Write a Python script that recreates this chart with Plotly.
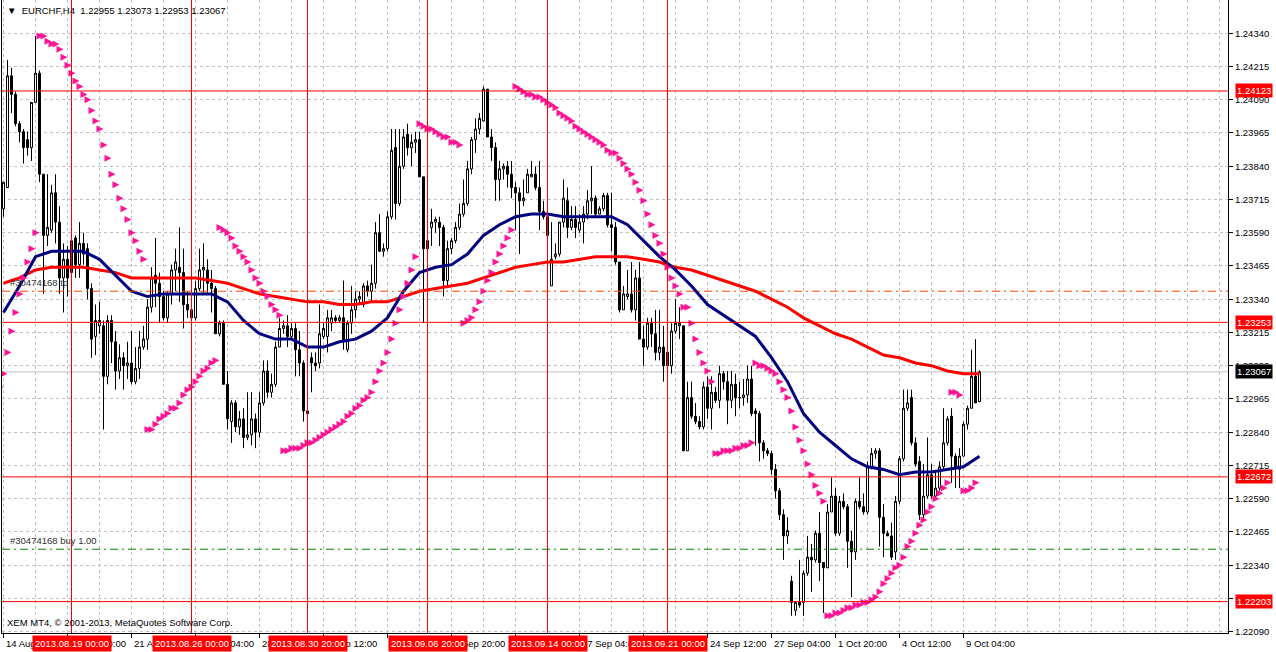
import plotly.graph_objects as go

# EURCHF H4 bars (bar index 0 = 14 Aug 2013 04:00)
open_ = [
    1.2368, 1.2376, 1.2418, 1.2411, 1.2400, 1.2397, 1.2394, 1.2391, 1.2408, 1.2419,
    1.2381, 1.2358, 1.2360, 1.2374, 1.2363, 1.2342, 1.2349, 1.2344, 1.2357, 1.2347,
    1.2355, 1.2353, 1.2338, 1.2320, 1.2324, 1.2324, 1.2305, 1.2326, 1.2318, 1.2307,
    1.2312, 1.2309, 1.2310, 1.2303, 1.2308, 1.2316, 1.2319, 1.2331, 1.2343, 1.2340,
    1.2335, 1.2327, 1.2336, 1.2345, 1.2346, 1.2344, 1.2332, 1.2330, 1.2327, 1.2338,
    1.2345, 1.2345, 1.2340, 1.2338, 1.2321, 1.2325, 1.2302, 1.2288, 1.2295, 1.2286,
    1.2289, 1.2282, 1.2283, 1.2289, 1.2284, 1.2295, 1.2307, 1.2299, 1.2302, 1.2316,
    1.2323, 1.2324, 1.2320, 1.2323, 1.2315, 1.2310, 1.2292, 1.2312, 1.2310, 1.2310,
    1.2320, 1.2320, 1.2325, 1.2327, 1.2326, 1.2327, 1.2315, 1.2325, 1.2330, 1.2334,
    1.2332, 1.2339, 1.2337, 1.2340, 1.2359, 1.2352, 1.2353, 1.2365, 1.2391, 1.2370,
    1.2384, 1.2396, 1.2391, 1.2393, 1.2394, 1.2380, 1.2356, 1.2361, 1.2363, 1.2363,
    1.2361, 1.2341, 1.2353, 1.2356, 1.2361, 1.2366, 1.2370, 1.2383, 1.2394, 1.2398,
    1.2401, 1.2413, 1.2395, 1.2391, 1.2379, 1.2383, 1.2384, 1.2381, 1.2376, 1.2374,
    1.2371, 1.2374, 1.2380, 1.2381, 1.2376, 1.2367, 1.2365, 1.2339, 1.2350, 1.2351,
    1.2363, 1.2371, 1.2361, 1.2364, 1.2360, 1.2363, 1.2366, 1.2371, 1.2372, 1.2366,
    1.2368, 1.2373, 1.2362, 1.2361, 1.2348, 1.2330, 1.2335, 1.2336, 1.2330, 1.2342,
    1.2319, 1.2316, 1.2325, 1.2321, 1.2314, 1.2316, 1.2314, 1.2309, 1.2322, 1.2324,
    1.2324, 1.2277, 1.2297, 1.2290, 1.2288, 1.2286, 1.2301, 1.2293, 1.2299, 1.2296,
    1.2306, 1.2303, 1.2296, 1.2302, 1.2297, 1.2297, 1.2298, 1.2304, 1.2292, 1.2291,
    1.2280, 1.2277, 1.2276, 1.2270, 1.2262, 1.2253, 1.2245, 1.2228, 1.2217, 1.2220,
    1.2220, 1.2231, 1.2237, 1.2236, 1.2246, 1.2235, 1.2233, 1.2254, 1.2260, 1.2246,
    1.2258, 1.2256, 1.2243, 1.2239, 1.2258, 1.2256, 1.2254, 1.2271, 1.2276, 1.2277,
    1.2252, 1.2246, 1.2245, 1.2239, 1.2258, 1.2274, 1.2293, 1.2297, 1.2280, 1.2273,
    1.2253, 1.2260, 1.2268, 1.2260, 1.2263, 1.2271, 1.2280, 1.2290, 1.2275, 1.2270,
    1.2275, 1.2287, 1.2293, 1.2305, 1.22955,
]
high = [
    1.2378, 1.2424, 1.2421, 1.2412, 1.2401, 1.2398, 1.2397, 1.2408, 1.2433, 1.2420,
    1.2381, 1.2381, 1.2377, 1.2381, 1.2369, 1.2355, 1.2354, 1.2358, 1.2358, 1.2363,
    1.2359, 1.2355, 1.2340, 1.2332, 1.2333, 1.2326, 1.2328, 1.2328, 1.2322, 1.2317,
    1.2314, 1.2318, 1.2322, 1.2316, 1.2322, 1.2324, 1.2334, 1.2346, 1.2357, 1.2344,
    1.2337, 1.2337, 1.2347, 1.2353, 1.2361, 1.2353, 1.2337, 1.2337, 1.2341, 1.2353,
    1.2355, 1.2349, 1.2345, 1.2339, 1.2326, 1.2326, 1.2307, 1.2296, 1.2296, 1.2292,
    1.2293, 1.2299, 1.2299, 1.2291, 1.2299, 1.2311, 1.2311, 1.2306, 1.2318, 1.2327,
    1.2326, 1.2328, 1.2325, 1.2325, 1.2322, 1.2311, 1.2293, 1.2314, 1.2314, 1.2332,
    1.2325, 1.2330, 1.2330, 1.2328, 1.2328, 1.2341, 1.2326, 1.2339, 1.2337, 1.2337,
    1.2340, 1.2341, 1.2347, 1.2363, 1.2366, 1.2355, 1.2367, 1.2398, 1.2398, 1.2398,
    1.2398, 1.2400, 1.2396, 1.2397, 1.2397, 1.2380, 1.2358, 1.2368, 1.2365, 1.2365,
    1.2362, 1.2356, 1.2357, 1.2363, 1.2370, 1.2379, 1.2386, 1.2395, 1.2402, 1.2404,
    1.2414, 1.2413, 1.2398, 1.2393, 1.2386, 1.2385, 1.2386, 1.2386, 1.2378, 1.2376,
    1.2379, 1.2383, 1.2386, 1.2384, 1.2386, 1.2371, 1.2366, 1.2363, 1.2355, 1.2363,
    1.2379, 1.2376, 1.2369, 1.2369, 1.2366, 1.2369, 1.2375, 1.2384, 1.2373, 1.2369,
    1.2374, 1.2374, 1.2374, 1.2363, 1.2348, 1.2339, 1.2345, 1.2348, 1.2345, 1.2348,
    1.2324, 1.2327, 1.2327, 1.2330, 1.2330, 1.2324, 1.2318, 1.2325, 1.2334, 1.2331,
    1.2324, 1.2303, 1.2303, 1.2295, 1.2290, 1.2303, 1.2305, 1.2305, 1.2301, 1.2309,
    1.2307, 1.2307, 1.2307, 1.2306, 1.2303, 1.2304, 1.2309, 1.2309, 1.2293, 1.2292,
    1.2281, 1.2278, 1.2277, 1.2272, 1.2263, 1.2255, 1.2252, 1.2230, 1.2220, 1.2236,
    1.2232, 1.2245, 1.2242, 1.2247, 1.2254, 1.2235, 1.2257, 1.2267, 1.2263, 1.2260,
    1.2261, 1.2257, 1.2247, 1.2259, 1.2267, 1.2261, 1.2273, 1.2278, 1.2278, 1.2278,
    1.2257, 1.2247, 1.2250, 1.2260, 1.2275, 1.2300, 1.2300, 1.2300, 1.2282, 1.2275,
    1.2272, 1.2282, 1.2272, 1.2269, 1.2273, 1.2293, 1.2290, 1.2293, 1.2276, 1.2278,
    1.2288, 1.2294, 1.2315, 1.2319, 1.23073,
]
low = [
    1.2365, 1.2376, 1.2404, 1.2399, 1.2393, 1.2385, 1.2388, 1.2386, 1.2408, 1.2378,
    1.2336, 1.2354, 1.2359, 1.2355, 1.2336, 1.2329, 1.2335, 1.2341, 1.2342, 1.2342,
    1.2347, 1.2334, 1.2312, 1.2313, 1.2321, 1.2285, 1.2302, 1.2310, 1.2300, 1.2304,
    1.2300, 1.2304, 1.2302, 1.2302, 1.2304, 1.2315, 1.2315, 1.2329, 1.2331, 1.2325,
    1.2326, 1.2325, 1.2332, 1.2337, 1.2333, 1.2323, 1.2327, 1.2321, 1.2326, 1.2337,
    1.2336, 1.2336, 1.2329, 1.2321, 1.2320, 1.2302, 1.2285, 1.2280, 1.2284, 1.2283,
    1.2278, 1.2281, 1.2279, 1.2278, 1.2282, 1.2294, 1.2297, 1.2297, 1.2301, 1.2316,
    1.2321, 1.2316, 1.2319, 1.2305, 1.2305, 1.2288, 1.2290, 1.2299, 1.2307, 1.2308,
    1.2319, 1.2314, 1.2322, 1.2325, 1.2325, 1.2315, 1.2314, 1.2321, 1.2327, 1.2332,
    1.2331, 1.2335, 1.2333, 1.2338, 1.2352, 1.2350, 1.2352, 1.2364, 1.2364, 1.2369,
    1.2383, 1.2388, 1.2384, 1.2389, 1.2380, 1.2325, 1.2352, 1.2354, 1.2359, 1.2354,
    1.2335, 1.2339, 1.2351, 1.2355, 1.2360, 1.2365, 1.2369, 1.2381, 1.2389, 1.2396,
    1.2401, 1.2395, 1.2386, 1.2371, 1.2371, 1.2379, 1.2376, 1.2372, 1.2360, 1.2351,
    1.2369, 1.2374, 1.2380, 1.2375, 1.2360, 1.2364, 1.2357, 1.2339, 1.2349, 1.2350,
    1.2361, 1.2357, 1.2360, 1.2357, 1.2359, 1.2355, 1.2364, 1.2366, 1.2365, 1.2366,
    1.2367, 1.2361, 1.2352, 1.2347, 1.2329, 1.2330, 1.2334, 1.2329, 1.2326, 1.2319,
    1.2309, 1.2315, 1.2316, 1.2311, 1.2311, 1.2303, 1.2309, 1.2306, 1.2321, 1.2319,
    1.2277, 1.2277, 1.2289, 1.2287, 1.2285, 1.2285, 1.2289, 1.2285, 1.2295, 1.2293,
    1.2300, 1.2287, 1.2293, 1.2290, 1.2293, 1.2294, 1.2295, 1.2290, 1.2279, 1.2273,
    1.2274, 1.2275, 1.2268, 1.2259, 1.2251, 1.2236, 1.2242, 1.2215, 1.2215, 1.2218,
    1.2215, 1.2230, 1.2224, 1.2235, 1.2228, 1.2216, 1.2233, 1.2254, 1.2245, 1.2245,
    1.2255, 1.2233, 1.2222, 1.2236, 1.2255, 1.2253, 1.2253, 1.2270, 1.2274, 1.2241,
    1.2237, 1.2245, 1.2236, 1.2236, 1.2257, 1.2273, 1.2292, 1.2279, 1.2271, 1.2251,
    1.2251, 1.2259, 1.2259, 1.2259, 1.2262, 1.2270, 1.2279, 1.2265, 1.2263, 1.2263,
    1.2275, 1.2285, 1.2293, 1.2295, 1.22953,
]
close = [
    1.2378, 1.2418, 1.2411, 1.2400, 1.2397, 1.2391, 1.2391, 1.2408, 1.2419, 1.2381,
    1.2358, 1.2361, 1.2374, 1.2363, 1.2342, 1.2349, 1.2342, 1.2356, 1.2347, 1.2355,
    1.2351, 1.2338, 1.2319, 1.2326, 1.2326, 1.2305, 1.2326, 1.2318, 1.2307, 1.2312,
    1.2309, 1.2310, 1.2303, 1.2308, 1.2316, 1.2319, 1.2331, 1.2342, 1.2340, 1.2335,
    1.2327, 1.2336, 1.2345, 1.2348, 1.2344, 1.2332, 1.2330, 1.2327, 1.2338, 1.2345,
    1.2346, 1.2340, 1.2338, 1.2321, 1.2325, 1.2302, 1.2289, 1.2295, 1.2286, 1.2289,
    1.2282, 1.2283, 1.2289, 1.2284, 1.2295, 1.2307, 1.2299, 1.2302, 1.2316, 1.2323,
    1.2324, 1.2320, 1.2323, 1.2315, 1.2310, 1.2292, 1.2291, 1.2310, 1.2309, 1.2321,
    1.2323, 1.2327, 1.2327, 1.2326, 1.2327, 1.2318, 1.2325, 1.2330, 1.2334, 1.2335,
    1.2339, 1.2337, 1.2340, 1.2359, 1.2352, 1.2353, 1.2365, 1.2390, 1.2370, 1.2384,
    1.2395, 1.2391, 1.2393, 1.2394, 1.2380, 1.2353, 1.2353, 1.2363, 1.2364, 1.2361,
    1.2341, 1.2353, 1.2356, 1.2361, 1.2366, 1.2370, 1.2383, 1.2394, 1.2398, 1.2402,
    1.2413, 1.2395, 1.2391, 1.2379, 1.2383, 1.2384, 1.2381, 1.2376, 1.2374, 1.2371,
    1.2372, 1.2381, 1.2381, 1.2376, 1.2367, 1.2365, 1.2358, 1.2349, 1.2351, 1.2363,
    1.2372, 1.2361, 1.2364, 1.2361, 1.2363, 1.2366, 1.2371, 1.2372, 1.2366, 1.2368,
    1.2373, 1.2362, 1.2361, 1.2348, 1.2330, 1.2336, 1.2336, 1.2330, 1.2342, 1.2319,
    1.2316, 1.2325, 1.2321, 1.2314, 1.2316, 1.2309, 1.2309, 1.2322, 1.2325, 1.2325,
    1.2277, 1.2297, 1.2290, 1.2288, 1.2286, 1.2301, 1.2293, 1.2299, 1.2296, 1.2306,
    1.2303, 1.2296, 1.2302, 1.2297, 1.2297, 1.2298, 1.2304, 1.2291, 1.2291, 1.2280,
    1.2277, 1.2276, 1.2270, 1.2262, 1.2253, 1.2245, 1.2247, 1.2220, 1.2220, 1.2219,
    1.2231, 1.2237, 1.2236, 1.2246, 1.2235, 1.2233, 1.2254, 1.2260, 1.2246, 1.2258,
    1.2256, 1.2243, 1.2239, 1.2258, 1.2256, 1.2254, 1.2271, 1.2276, 1.2277, 1.2252,
    1.2246, 1.2245, 1.2237, 1.2258, 1.2274, 1.2293, 1.2295, 1.2280, 1.2272, 1.2253,
    1.2260, 1.2268, 1.2260, 1.2263, 1.2271, 1.2280, 1.2289, 1.2275, 1.2271, 1.2275,
    1.2287, 1.2293, 1.2305, 1.2295, 1.23067,
]

# parabolic SAR, one value per bar
sar = [
    1.2301, 1.2306, 1.2314, 1.2322, 1.2329, 1.2336, 1.2342, 1.2348, 1.2353, 1.2359,
    1.2433, 1.2433, 1.2431, 1.2430, 1.2430, 1.2428, 1.2425, 1.2422, 1.2419, 1.2416,
    1.2414, 1.2411, 1.2409, 1.2405, 1.2401, 1.2398, 1.2392, 1.2387, 1.2381, 1.2377,
    1.2372, 1.2368, 1.2364, 1.2359, 1.2356, 1.2352, 1.2349, 1.2285, 1.2285, 1.2287,
    1.2289, 1.2290, 1.2291, 1.2293, 1.2293, 1.2295, 1.2298, 1.2300, 1.2301, 1.2303,
    1.2305, 1.2307, 1.2308, 1.2310, 1.2311, 1.2361, 1.2360, 1.2359, 1.2357, 1.2354,
    1.2352, 1.2350, 1.2348, 1.2345, 1.2342, 1.2340, 1.2337, 1.2335, 1.2332, 1.2330,
    1.2328, 1.2277, 1.2277, 1.2278, 1.2278, 1.2278, 1.2279, 1.2280, 1.2280, 1.2281,
    1.2282, 1.2283, 1.2284, 1.2285, 1.2286, 1.2287, 1.2288, 1.2290, 1.2291, 1.2293,
    1.2294, 1.2296, 1.2297, 1.2299, 1.2303, 1.2307, 1.2310, 1.2314, 1.2319, 1.2325,
    1.2330, 1.2335, 1.2340, 1.2345, 1.2350, 1.2400, 1.2399, 1.2398, 1.2398, 1.2397,
    1.2396, 1.2395, 1.2395, 1.2393, 1.2393, 1.2392, 1.2325, 1.2326, 1.2327, 1.2330,
    1.2333, 1.2337, 1.2341, 1.2344, 1.2348, 1.2351, 1.2354, 1.2357, 1.2360, 1.2414,
    1.2413, 1.2412, 1.2411, 1.2411, 1.2410, 1.2410, 1.2409, 1.2408, 1.2407, 1.2406,
    1.2404, 1.2403, 1.2402, 1.2401, 1.2399, 1.2398, 1.2397, 1.2396, 1.2395, 1.2394,
    1.2393, 1.2392, 1.2390, 1.2389, 1.2389, 1.2387, 1.2385, 1.2383, 1.2381, 1.2378,
    1.2375, 1.2371, 1.2366, 1.2362, 1.2358, 1.2355, 1.2351, 1.2346, 1.2342, 1.2339,
    1.2336, 1.2331, 1.2331, 1.2325, 1.2319, 1.2314, 1.2310, 1.2307, 1.2303, 1.2276,
    1.2276, 1.2277, 1.2277, 1.2277, 1.2278, 1.2278, 1.2279, 1.2279, 1.2280, 1.2310,
    1.2309, 1.2309, 1.2308, 1.2307, 1.2306, 1.2303, 1.2300, 1.2297, 1.2292, 1.2286,
    1.2281, 1.2277, 1.2272, 1.2268, 1.2264, 1.2261, 1.2258, 1.2215, 1.2215, 1.2216,
    1.2216, 1.2217, 1.2218, 1.2218, 1.2219, 1.2219, 1.2220, 1.2220, 1.2221, 1.2222,
    1.2224, 1.2227, 1.2229, 1.2231, 1.2233, 1.2234, 1.2237, 1.2241, 1.2243, 1.2246,
    1.2249, 1.2251, 1.2254, 1.2256, 1.2259, 1.2261, 1.2263, 1.2265, 1.2299, 1.2299,
    1.2298, 1.2262, 1.2262, 1.2263, 1.2265,
]

# moving averages, read every 4th bar
ma_bars = list(range(0, 245, 4))
ma_slow = [
    1.2340, 1.2342, 1.2345, 1.2346, 1.2346, 1.2346, 1.2345, 1.2344, 1.2342, 1.2342,
    1.2342, 1.2342, 1.2342, 1.2341, 1.2340, 1.2338, 1.2336, 1.2335, 1.2334, 1.2333,
    1.2333, 1.2332, 1.2332, 1.2333, 1.2333, 1.2335, 1.2337, 1.2338, 1.2339, 1.2340,
    1.2342, 1.2344, 1.2346, 1.2347, 1.2348, 1.2348, 1.2349, 1.2350, 1.2350, 1.2350,
    1.2349, 1.2348, 1.2346, 1.2345, 1.2343, 1.2341, 1.2339, 1.2337, 1.2334, 1.2331,
    1.2327, 1.2324, 1.2321, 1.2319, 1.2316, 1.2313, 1.2312, 1.2310, 1.2309, 1.2307,
    1.2306, 1.2306,
]
ma_fast = [
    1.2329, 1.2339, 1.2350, 1.2352, 1.2352, 1.2352, 1.2349, 1.2343, 1.2337, 1.2335,
    1.2336, 1.2336, 1.2336, 1.2336, 1.2333, 1.2326, 1.2321, 1.2319, 1.2319, 1.2316,
    1.2316, 1.2318, 1.2319, 1.2322, 1.2327, 1.2337, 1.2344, 1.2346, 1.2347, 1.2351,
    1.2358, 1.2362, 1.2365, 1.2366, 1.2366, 1.2365, 1.2365, 1.2365, 1.2365, 1.2362,
    1.2356, 1.2350, 1.2345, 1.2339, 1.2332, 1.2328, 1.2324, 1.2320, 1.2312, 1.2303,
    1.2291, 1.2284, 1.2279, 1.2274, 1.2271, 1.2270, 1.2268, 1.2269, 1.2269, 1.2270,
    1.2271, 1.2275,
]

price_ticks = [1.22090, 1.22215, 1.22340, 1.22465, 1.22590, 1.22715, 1.22840,
               1.22965, 1.23090, 1.23215, 1.23340, 1.23465, 1.23590, 1.23715,
               1.23840, 1.23965, 1.24090, 1.24215, 1.24340]
time_ticks = list(range(0, 241, 16))
time_labels = ["14 Aug 2013", "16 Aug 20:00", "21 Aug 12:00", "26 Aug 04:00",
               "28 Aug 20:00", "2 Sep 12:00", "5 Sep 04:00", "9 Sep 20:00",
               "12 Sep 12:00", "17 Sep 04:00", "19 Sep 20:00", "24 Sep 12:00",
               "27 Sep 04:00", "1 Oct 20:00", "4 Oct 12:00", "9 Oct 04:00"]

vline_bars = [17, 47, 76, 106, 136, 166]
vline_labels = ["2013.08.19 00:00", "2013.08.26 00:00", "2013.08.30 20:00",
                "2013.09.06 20:00", "2013.09.14 00:00", "2013.09.21 00:00"]
hline_prices = [1.24123, 1.23253, 1.22672, 1.22203]
bid = 1.23067
tp_price = 1.2337
buy_price = 1.2240

FONT = "Liberation Sans"
bars = list(range(len(close)))

fig = go.Figure()

fig.add_trace(go.Candlestick(
    x=bars, open=open_, high=high, low=low, close=close,
    increasing=dict(line=dict(color="black", width=1), fillcolor="white"),
    decreasing=dict(line=dict(color="black", width=1), fillcolor="black"),
    whiskerwidth=0, showlegend=False, hoverinfo="skip"
))
fig.add_trace(go.Scatter(x=ma_bars, y=ma_slow, mode="lines",
                         line=dict(color="#ff0000", width=3), showlegend=False))
fig.add_trace(go.Scatter(x=ma_bars, y=ma_fast, mode="lines",
                         line=dict(color="#000080", width=3), showlegend=False))
fig.add_trace(go.Scatter(x=bars, y=sar, mode="markers",
                         marker=dict(symbol="arrow-right", size=7, color="#ff1493",
                                     line=dict(width=0)),
                         showlegend=False))

# horizontal / vertical objects
shapes = []
shapes.append(dict(type="line", xref="paper", x0=0, x1=1, yref="y", y0=bid, y1=bid,
                   line=dict(color="#c0c0c0", width=1), layer="below"))
for p in hline_prices:
    shapes.append(dict(type="line", xref="paper", x0=0, x1=1, yref="y", y0=p, y1=p,
                       line=dict(color="#ff0000", width=1)))
for b in vline_bars:
    shapes.append(dict(type="line", xref="x", x0=b, x1=b, yref="paper", y0=0, y1=1,
                       line=dict(color="#ff0000", width=1)))
shapes.append(dict(type="line", xref="paper", x0=0, x1=1, yref="y", y0=tp_price, y1=tp_price,
                   line=dict(color="#ff4500", width=1, dash="8px,4px,2px,4px")))
shapes.append(dict(type="line", xref="paper", x0=0, x1=1, yref="y", y0=buy_price, y1=buy_price,
                   line=dict(color="#008000", width=1, dash="8px,4px,2px,4px")))

ann = []
ann.append(dict(xref="paper", yref="paper", x=0, y=1, xanchor="left", yanchor="top",
                xshift=3, yshift=-3, showarrow=False,
                text="\u25bc  EURCHF,H4  1.22955 1.23073 1.22953 1.23067",
                font=dict(family=FONT, size=9.5, color="black")))
ann.append(dict(xref="paper", yref="paper", x=0, y=0, xanchor="left", yanchor="bottom",
                xshift=3, yshift=3, showarrow=False,
                text="XEM MT4, \u00a9 2001-2013, MetaQuotes Software Corp.",
                font=dict(family=FONT, size=9.5, color="black")))
ann.append(dict(xref="paper", yref="y", x=0, y=tp_price, xanchor="left", yanchor="bottom",
                xshift=6, yshift=1, showarrow=False, text="#30474168 tp",
                font=dict(family=FONT, size=9.5, color="#303030")))
ann.append(dict(xref="paper", yref="y", x=0, y=buy_price, xanchor="left", yanchor="bottom",
                xshift=6, yshift=1, showarrow=False, text="#30474168 buy 1.00",
                font=dict(family=FONT, size=9.5, color="#303030")))
for t, lab in zip(time_ticks, time_labels):
    ann.append(dict(xref="x", yref="paper", x=t, y=0, xanchor="left", yanchor="top",
                    xshift=0, yshift=-3, showarrow=False, text=lab,
                    font=dict(family=FONT, size=9.5, color="black")))
for b, lab in zip(vline_bars, vline_labels):
    ann.append(dict(xref="x", yref="paper", x=b, y=0, xanchor="center", yanchor="top",
                    yshift=-2, showarrow=False, text=lab, bgcolor="#ff0000", borderpad=2,
                    font=dict(family=FONT, size=9.5, color="white")))
for p in hline_prices:
    ann.append(dict(xref="paper", yref="y", x=1, y=p, xanchor="left", yanchor="middle",
                    xshift=7, showarrow=False, text=f"{p:.5f}", bgcolor="#ff0000",
                    borderpad=1, font=dict(family=FONT, size=9.5, color="white")))
ann.append(dict(xref="paper", yref="y", x=1, y=bid, xanchor="left", yanchor="middle",
                xshift=7, showarrow=False, text=f"{bid:.5f}", bgcolor="black",
                borderpad=1, font=dict(family=FONT, size=9.5, color="white")))

fig.update_layout(
    width=1276, height=652,
    margin=dict(l=2, r=48, t=0, b=19),
    paper_bgcolor="white", plot_bgcolor="white",
    boxgap=0.5, boxgroupgap=0,
    shapes=shapes, annotations=ann,
    xaxis=dict(
        range=[-0.375, 306.125], rangeslider=dict(visible=False),
        tickvals=time_ticks, showticklabels=False,
        ticks="outside", ticklen=4, tickcolor="black",
        showgrid=True, gridcolor="#c0c0c0", griddash="3px,3px",
        minor=dict(tickvals=list(range(0, 305, 8)), showgrid=True,
                   gridcolor="#c0c0c0", griddash="3px,3px", ticks=""),
        showline=True, linecolor="black", linewidth=1, mirror=True, zeroline=False,
    ),
    yaxis=dict(
        side="right", range=[1.22085, 1.24465],
        tickvals=price_ticks, tickformat=".5f",
        ticks="outside", ticklen=4, tickcolor="black",
        tickfont=dict(family=FONT, size=9.5, color="black"),
        showgrid=True, gridcolor="#c0c0c0", griddash="3px,3px",
        showline=True, linecolor="black", linewidth=1, mirror=True, zeroline=False,
    ),
    font=dict(family=FONT, size=9.5, color="black"),
)

fig.write_html("out.html", config={"displayModeBar": False},
               post_script="document.body.style.margin='0px';"
                           "document.body.style.overflow='hidden';")
